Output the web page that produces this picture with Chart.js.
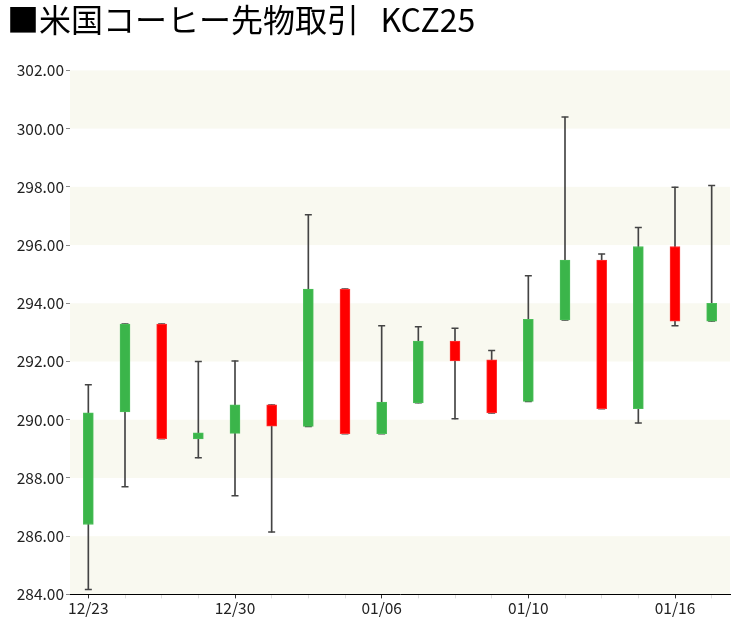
<!DOCTYPE html>
<html>
<head>
<meta charset="utf-8">
<script src="https://cdn.jsdelivr.net/npm/chart.js@4.4.0/dist/chart.umd.min.js"></script>
<style>
  html, body { margin: 0; padding: 0; background: #fff; }
  #wrap { width: 750px; height: 625px; }
</style>
</head>
<body>
<div id="wrap"><canvas id="chart"></canvas></div>
<script>
// daily data
const dates = ['12/23', '12/24', '12/26', '12/27', '12/30', '12/31', '01/02', '01/03', '01/06',
    '01/07', '01/08', '01/09', '01/10', '01/13', '01/14', '01/15', '01/16', '01/17'];
const opens  = [286.40, 290.27, 293.29, 289.34, 289.53, 290.51, 289.77, 294.49, 289.52,
    290.58, 292.70, 292.06, 290.63, 293.43, 295.48, 290.38, 295.95, 293.39];
const closes = [290.24, 293.29, 289.35, 289.55, 290.51, 289.78, 294.49, 289.52, 290.61,
    292.70, 292.02, 290.23, 293.45, 295.48, 290.38, 295.95, 293.39, 294.00];
const highs  = [291.20, 293.29, 293.29, 292.00, 292.02, 290.51, 297.04, 294.49, 293.23,
    293.19, 293.14, 292.38, 294.95, 300.40, 295.69, 296.60, 297.99, 298.05];
const lows   = [284.17, 287.70, 289.35, 288.69, 287.39, 286.14, 289.77, 289.52, 289.52,
    290.58, 290.03, 290.23, 290.63, 293.43, 290.38, 289.89, 293.23, 293.39];
const yMin = 284, yMax = 302, yStep = 2;
const labelEvery = 4;

const UP = '#3bb54a', DOWN = '#ff0000';

let bodies = dates.map((d, i) => [opens[i], closes[i]]);
let wicks = dates.map((d, i) => [lows[i], highs[i]]);
let bodyColors = dates.map((d, i) => closes[i] >= opens[i] ? UP : DOWN);
let bodyBorders = dates.map((d, i) => closes[i] >= opens[i] ? '#4cbf5a' : '#ff3030');

// pale bands behind every other 2-point step
const bandPlugin = {
    id: 'bands',
    beforeDraw(chart) {
        let ctx = chart.ctx;
        let area = chart.chartArea;
        let y = chart.scales.y;
        ctx.save();
        ctx.fillStyle = '#f9f9f0';
        for (let v = yMin; v < yMax; v += yStep * 2) {
            let top = y.getPixelForValue(v + yStep);
            let bottom = y.getPixelForValue(v);
            ctx.fillRect(area.left, top, area.right - area.left, bottom - top);
        }
        ctx.restore();
    }
};

const font = { family: "'Noto Sans CJK JP', 'Noto Sans', sans-serif", size: 15.5 };

new Chart(document.getElementById('chart'), {
    type: 'bar',
    data: {
        labels: dates,
        datasets: [
            {
                label: 'wick',
                data: wicks,
                backgroundColor: '#444444',
                barThickness: 1,
                grouped: false,
                order: 3
            },
            {
                type: 'line',
                label: 'high',
                data: highs,
                showLine: false,
                pointStyle: 'line',
                pointRadius: 3.5,
                borderColor: '#444444',
                borderWidth: 1.5,
                order: 2
            },
            {
                type: 'line',
                label: 'low',
                data: lows,
                showLine: false,
                pointStyle: 'line',
                pointRadius: 3.5,
                borderColor: '#444444',
                borderWidth: 1.5,
                order: 2
            },
            {
                label: 'body',
                data: bodies,
                backgroundColor: bodyColors,
                borderColor: bodyBorders,
                borderWidth: 1,
                borderSkipped: false,
                barThickness: 10,
                grouped: false,
                order: 1
            }
        ]
    },
    options: {
        responsive: true,
        maintainAspectRatio: false,
        animation: false,
        layout: { padding: { left: 7, right: 20, top: 0, bottom: 8 } },
        plugins: {
            legend: { display: false },
            tooltip: { enabled: false },
            title: {
                display: true,
                text: '■米国コーヒー先物取引   KCZ25',
                align: 'start',
                color: '#000',
                font: { family: "'Noto Sans CJK JP', sans-serif", size: 32, weight: 'normal' },
                padding: { top: 1, bottom: 31 }
            }
        },
        scales: {
            x: {
                grid: {
                    offset: false,
                    drawOnChartArea: false,
                    drawTicks: true,
                    tickLength: 4,
                    color: (c) => c.index % labelEvery === 0 ? '#333' : '#ddd'
                },
                border: { display: true, color: '#000', width: 1 },
                ticks: {
                    autoSkip: false,
                    maxRotation: 0,
                    padding: 0,
                    color: '#222',
                    font: font,
                    callback: function (v, i) {
                        return i % labelEvery === 0 ? dates[i] : '';
                    }
                }
            },
            y: {
                min: yMin,
                max: yMax,
                afterFit(scale) { scale.width = 63; },
                grid: {
                    drawOnChartArea: false,
                    drawTicks: true,
                    tickLength: 4,
                    color: '#888'
                },
                border: { display: false },
                ticks: {
                    stepSize: yStep,
                    padding: 2,
                    color: '#222',
                    font: font,
                    callback: (v) => v.toFixed(2)
                }
            }
        }
    },
    plugins: [bandPlugin]
});
</script>
</body>
</html>
